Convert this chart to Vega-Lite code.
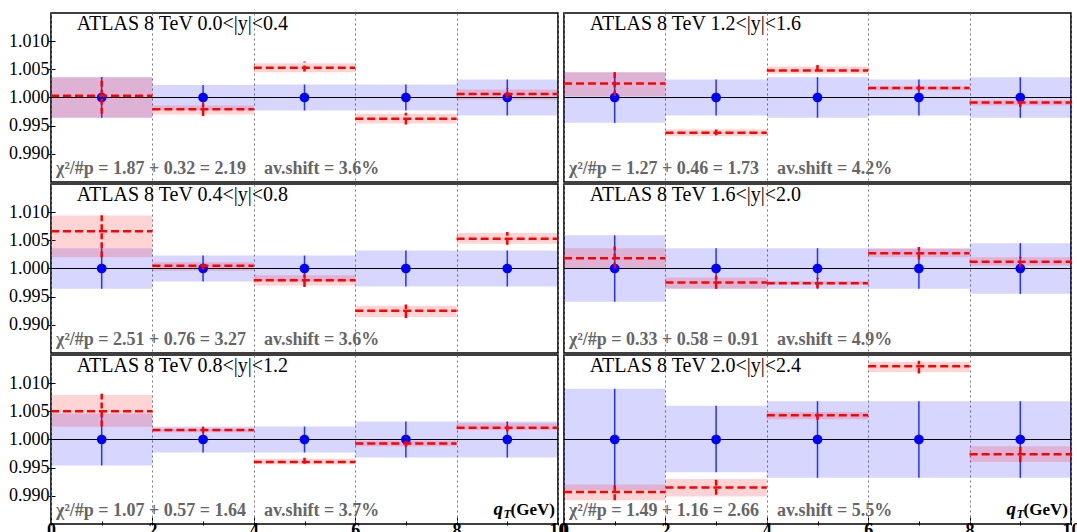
{
"$schema": "https://vega.github.io/schema/vega-lite/v6.json",
"padding": {"left": 8, "top": 12, "right": 0, "bottom": 0},
"background": "white",
"data": {"values": [
{"r":1,"c":1,"bin":1,"x0":0,"x1":2,"xm":1,"d":1,"blo":0.9964,"bhi":1.0036,"rv":1.0003,"rlo":0.9964,"rhi":1.0036,"elo":0.9971,"ehi":1.0036,"title":"ATLAS 8 TeV 0.0<|y|<0.4","stats":"χ²/#p = 1.87 + 0.32 = 2.19\u2003av.shift = 3.6%"},
{"r":1,"c":1,"bin":2,"x0":2,"x1":4,"xm":3,"d":1,"blo":0.9978,"bhi":1.0022,"rv":0.9979,"rlo":0.997,"rhi":0.9986,"elo":0.9967,"ehi":0.999},
{"r":1,"c":1,"bin":3,"x0":4,"x1":6,"xm":5,"d":1,"blo":0.9977,"bhi":1.0023,"rv":1.0053,"rlo":1.0045,"rhi":1.0061,"elo":1.0046,"ehi":1.0064},
{"r":1,"c":1,"bin":4,"x0":6,"x1":8,"xm":7,"d":1,"blo":0.9977,"bhi":1.0023,"rv":0.99625,"rlo":0.9954,"rhi":0.9971,"elo":0.9952,"ehi":0.9973},
{"r":1,"c":1,"bin":5,"x0":8,"x1":10,"xm":9,"d":1,"blo":0.9968,"bhi":1.0032,"rv":1.0006,"rlo":0.9996,"rhi":1.0014,"elo":0.9999,"ehi":1.0016},
{"r":1,"c":2,"bin":1,"x0":0,"x1":2,"xm":1,"d":1,"blo":0.9955,"bhi":1.0045,"rv":1.0025,"rlo":1.0002,"rhi":1.0045,"elo":1.0002,"ehi":1.0047,"title":"ATLAS 8 TeV 1.2<|y|<1.6","stats":"χ²/#p = 1.27 + 0.46 = 1.73\u2003av.shift = 4.2%"},
{"r":1,"c":2,"bin":2,"x0":2,"x1":4,"xm":3,"d":1,"blo":0.9968,"bhi":1.0032,"rv":0.99375,"rlo":0.9931,"rhi":0.9943,"elo":0.9933,"ehi":0.9943},
{"r":1,"c":2,"bin":3,"x0":4,"x1":6,"xm":5,"d":1,"blo":0.9964,"bhi":1.0036,"rv":1.0048,"rlo":1.0042,"rhi":1.0055,"elo":1.0047,"ehi":1.0058},
{"r":1,"c":2,"bin":4,"x0":6,"x1":8,"xm":7,"d":1,"blo":0.9968,"bhi":1.0032,"rv":1.0017,"rlo":1.0013,"rhi":1.002,"elo":1.0012,"ehi":1.0022},
{"r":1,"c":2,"bin":5,"x0":8,"x1":10,"xm":9,"d":1,"blo":0.9964,"bhi":1.0036,"rv":0.9991,"rlo":0.9986,"rhi":0.9995,"elo":0.9983,"ehi":0.9999},
{"r":2,"c":1,"bin":1,"x0":0,"x1":2,"xm":1,"d":1,"blo":0.9964,"bhi":1.0036,"rv":1.0066,"rlo":1.002,"rhi":1.0094,"elo":1.002,"ehi":1.0096,"title":"ATLAS 8 TeV 0.4<|y|<0.8","stats":"χ²/#p = 2.51 + 0.76 = 3.27\u2003av.shift = 3.6%"},
{"r":2,"c":1,"bin":2,"x0":2,"x1":4,"xm":3,"d":1,"blo":0.9977,"bhi":1.0023,"rv":1.0005,"rlo":0.9996,"rhi":1.0011,"elo":0.9998,"ehi":1.0012},
{"r":2,"c":1,"bin":3,"x0":4,"x1":6,"xm":5,"d":1,"blo":0.9977,"bhi":1.0023,"rv":0.9979,"rlo":0.997,"rhi":0.9988,"elo":0.9967,"ehi":0.999},
{"r":2,"c":1,"bin":4,"x0":6,"x1":8,"xm":7,"d":1,"blo":0.9968,"bhi":1.0032,"rv":0.9925,"rlo":0.9914,"rhi":0.9934,"elo":0.9912,"ehi":0.9936},
{"r":2,"c":1,"bin":5,"x0":8,"x1":10,"xm":9,"d":1,"blo":0.9968,"bhi":1.0032,"rv":1.0053,"rlo":1.0044,"rhi":1.0063,"elo":1.0042,"ehi":1.0065},
{"r":2,"c":2,"bin":1,"x0":0,"x1":2,"xm":1,"d":1,"blo":0.9941,"bhi":1.0059,"rv":1.0018,"rlo":1.0,"rhi":1.0036,"elo":1.0,"ehi":1.0039,"title":"ATLAS 8 TeV 1.6<|y|<2.0","stats":"χ²/#p = 0.33 + 0.58 = 0.91\u2003av.shift = 4.9%"},
{"r":2,"c":2,"bin":2,"x0":2,"x1":4,"xm":3,"d":1,"blo":0.9964,"bhi":1.0036,"rv":0.9975,"rlo":0.9964,"rhi":0.9984,"elo":0.9964,"ehi":0.9987},
{"r":2,"c":2,"bin":3,"x0":4,"x1":6,"xm":5,"d":1,"blo":0.9964,"bhi":1.0036,"rv":0.9974,"rlo":0.9971,"rhi":0.9978,"elo":0.9965,"ehi":0.9983},
{"r":2,"c":2,"bin":4,"x0":6,"x1":8,"xm":7,"d":1,"blo":0.9964,"bhi":1.0036,"rv":1.0027,"rlo":1.002,"rhi":1.0035,"elo":1.0016,"ehi":1.0038},
{"r":2,"c":2,"bin":5,"x0":8,"x1":10,"xm":9,"d":1,"blo":0.9955,"bhi":1.0045,"rv":1.0012,"rlo":1.0005,"rhi":1.002,"elo":1.0002,"ehi":1.0021},
{"r":3,"c":1,"bin":1,"x0":0,"x1":2,"xm":1,"d":1,"blo":0.9954,"bhi":1.0046,"rv":1.005,"rlo":1.00225,"rhi":1.0079,"elo":1.0023,"ehi":1.0081,"title":"ATLAS 8 TeV 0.8<|y|<1.2","stats":"χ²/#p = 1.07 + 0.57 = 1.64\u2003av.shift = 3.7%"},
{"r":3,"c":1,"bin":2,"x0":2,"x1":4,"xm":3,"d":1,"blo":0.9977,"bhi":1.0023,"rv":1.0017,"rlo":1.0013,"rhi":1.0019,"elo":1.0011,"ehi":1.0024},
{"r":3,"c":1,"bin":3,"x0":4,"x1":6,"xm":5,"d":1,"blo":0.9977,"bhi":1.0023,"rv":0.996,"rlo":0.9956,"rhi":0.9966,"elo":0.9957,"ehi":0.9971},
{"r":3,"c":1,"bin":4,"x0":6,"x1":8,"xm":7,"d":1,"blo":0.9968,"bhi":1.0032,"rv":0.9993,"rlo":0.9988,"rhi":0.9998,"elo":0.9987,"ehi":1.0004},
{"r":3,"c":1,"bin":5,"x0":8,"x1":10,"xm":9,"d":1,"blo":0.9968,"bhi":1.0032,"rv":1.0021,"rlo":1.0017,"rhi":1.0029,"elo":1.0014,"ehi":1.0031},
{"r":3,"c":2,"bin":1,"x0":0,"x1":2,"xm":1,"d":1,"blo":0.991,"bhi":1.009,"rv":0.9907,"rlo":0.9892,"rhi":0.992,"elo":0.9892,"ehi":0.9921,"title":"ATLAS 8 TeV 2.0<|y|<2.4","stats":"χ²/#p = 1.49 + 1.16 = 2.66\u2003av.shift = 5.5%"},
{"r":3,"c":2,"bin":2,"x0":2,"x1":4,"xm":3,"d":1,"blo":0.9942,"bhi":1.006,"rv":0.9915,"rlo":0.9899,"rhi":0.993,"elo":0.9902,"ehi":0.9932},
{"r":3,"c":2,"bin":3,"x0":4,"x1":6,"xm":5,"d":1,"blo":0.9932,"bhi":1.0068,"rv":1.0043,"rlo":1.0036,"rhi":1.0049,"elo":1.0035,"ehi":1.0051},
{"r":3,"c":2,"bin":4,"x0":6,"x1":8,"xm":7,"d":1,"blo":0.9932,"bhi":1.0068,"rv":1.013,"rlo":1.012,"rhi":1.0138,"elo":1.0117,"ehi":1.014},
{"r":3,"c":2,"bin":5,"x0":8,"x1":10,"xm":9,"d":1,"blo":0.9932,"bhi":1.0068,"rv":0.9974,"rlo":0.996,"rhi":0.9988,"elo":0.996,"ehi":0.9988}
]},
"facet": {
  "row": {"field": "r", "type": "ordinal", "header": {"labels": false, "title": null}},
  "column": {"field": "c", "type": "ordinal", "header": {"labels": false, "title": null}}
},
"spacing": 0,
"spec": {
  "width": 507,
  "height": 169,
  "layer": [
    {"mark": {"type": "rect", "color": "#0000ff", "opacity": 0.16},
     "encoding": {
       "x": {"field": "x0", "type": "quantitative", "scale": {"domain": [0, 10], "nice": false, "zero": false},
             "axis": {"title": null, "values": [0,0.5,1,1.5,2,2.5,3,3.5,4,4.5,5,5.5,6,6.5,7,7.5,8,8.5,9,9.5,10],
                      "labelExpr": "datum.value % 2 == 0 ? format(datum.value, 'd') : ''",
                      "labelFont": "Liberation Serif", "labelFontWeight": "bold", "labelFontSize": 18, "labelColor": "black",
                      "labelOverlap": false, "labelFlush": false, "labelPadding": 4, "domain": false,
                      "tickColor": "black", "tickWidth": 1,
                      "tickSize": {"condition": {"test": "datum.value % 2 == 0", "value": -8}, "value": -4},
                      "grid": true, "gridColor": "#777777", "gridDash": [2, 3], "gridWidth": 1,
                      "gridOpacity": {"condition": {"test": "datum.value % 2 == 0", "value": 1}, "value": 0}}},
       "x2": {"field": "x1"},
       "y": {"field": "blo", "type": "quantitative", "scale": {"domain": [0.985, 1.015], "nice": false, "zero": false},
             "axis": {"title": null, "values": [0.99, 0.995, 1.0, 1.005, 1.01], "format": ".3f",
                      "labelFont": "Liberation Serif", "labelFontSize": 18, "labelColor": "black",
                      "labelOverlap": false, "labelFlush": false, "labelPadding": 6, "domain": false, "grid": false,
                      "tickColor": "black", "tickWidth": 1, "tickSize": -7}},
       "y2": {"field": "bhi"}
     }},
    {"mark": {"type": "rect", "color": "#ff0000", "opacity": 0.17},
     "encoding": {"x": {"field": "x0", "type": "quantitative"}, "x2": {"field": "x1"},
                  "y": {"field": "rlo", "type": "quantitative"}, "y2": {"field": "rhi"}}},
    {"mark": {"type": "rule", "color": "black", "strokeWidth": 1.2},
     "encoding": {"y": {"datum": 1}}},
    {"mark": {"type": "rule", "color": "#2233ff", "strokeWidth": 1.5},
     "encoding": {"x": {"field": "xm", "type": "quantitative"},
                  "y": {"field": "blo", "type": "quantitative"}, "y2": {"field": "bhi"}}},
    {"mark": {"type": "point", "filled": true, "size": 95, "color": "#0000ff", "opacity": 1},
     "encoding": {"x": {"field": "xm", "type": "quantitative"}, "y": {"field": "d", "type": "quantitative"}}},
    {"mark": {"type": "rule", "color": "#ff0000", "strokeWidth": 2.5, "strokeDash": [8, 4]},
     "encoding": {"x": {"field": "x0", "type": "quantitative"}, "x2": {"field": "x1"},
                  "y": {"field": "rv", "type": "quantitative"}}},
    {"mark": {"type": "rule", "color": "#ff0000", "strokeWidth": 2.5, "strokeDash": [6, 3]},
     "encoding": {"x": {"field": "xm", "type": "quantitative"},
                  "y": {"field": "elo", "type": "quantitative"}, "y2": {"field": "ehi"}}},
    {"transform": [{"filter": "datum.bin == 1"}],
     "mark": {"type": "text", "align": "left", "baseline": "alphabetic", "font": "Liberation Serif", "fontSize": 20, "color": "black"},
     "encoding": {"x": {"datum": 0.51}, "y": {"datum": 1.012}, "text": {"field": "title"}}},
    {"transform": [{"filter": "datum.bin == 1"}],
     "mark": {"type": "text", "align": "left", "baseline": "alphabetic", "font": "Liberation Serif", "fontWeight": "bold", "fontSize": 18, "color": "#666666"},
     "encoding": {"x": {"datum": 0.1}, "y": {"datum": 0.9865}, "text": {"field": "stats"}}},
    {"transform": [{"filter": "datum.bin == 1 && datum.r == 3"}],
     "mark": {"type": "text", "text": "(GeV)", "align": "right", "baseline": "alphabetic", "font": "Liberation Serif", "fontWeight": "bold", "fontSize": 17, "color": "black"},
     "encoding": {"x": {"datum": 9.94}, "y": {"datum": 0.9866}}},
    {"transform": [{"filter": "datum.bin == 1 && datum.r == 3"}],
     "mark": {"type": "text", "text": "T", "align": "right", "baseline": "alphabetic", "dx": -44, "dy": 3, "font": "Liberation Serif", "fontWeight": "bold", "fontStyle": "italic", "fontSize": 12, "color": "black"},
     "encoding": {"x": {"datum": 9.94}, "y": {"datum": 0.9866}}},
    {"transform": [{"filter": "datum.bin == 1 && datum.r == 3"}],
     "mark": {"type": "text", "text": "q", "align": "right", "baseline": "alphabetic", "dx": -52, "font": "Liberation Serif", "fontWeight": "bold", "fontStyle": "italic", "fontSize": 19, "color": "black"},
     "encoding": {"x": {"datum": 9.94}, "y": {"datum": 0.9866}}}
  ]
},
"config": {
  "view": {"stroke": "black", "strokeWidth": 1.6},
  "font": "Liberation Serif"
}
}
